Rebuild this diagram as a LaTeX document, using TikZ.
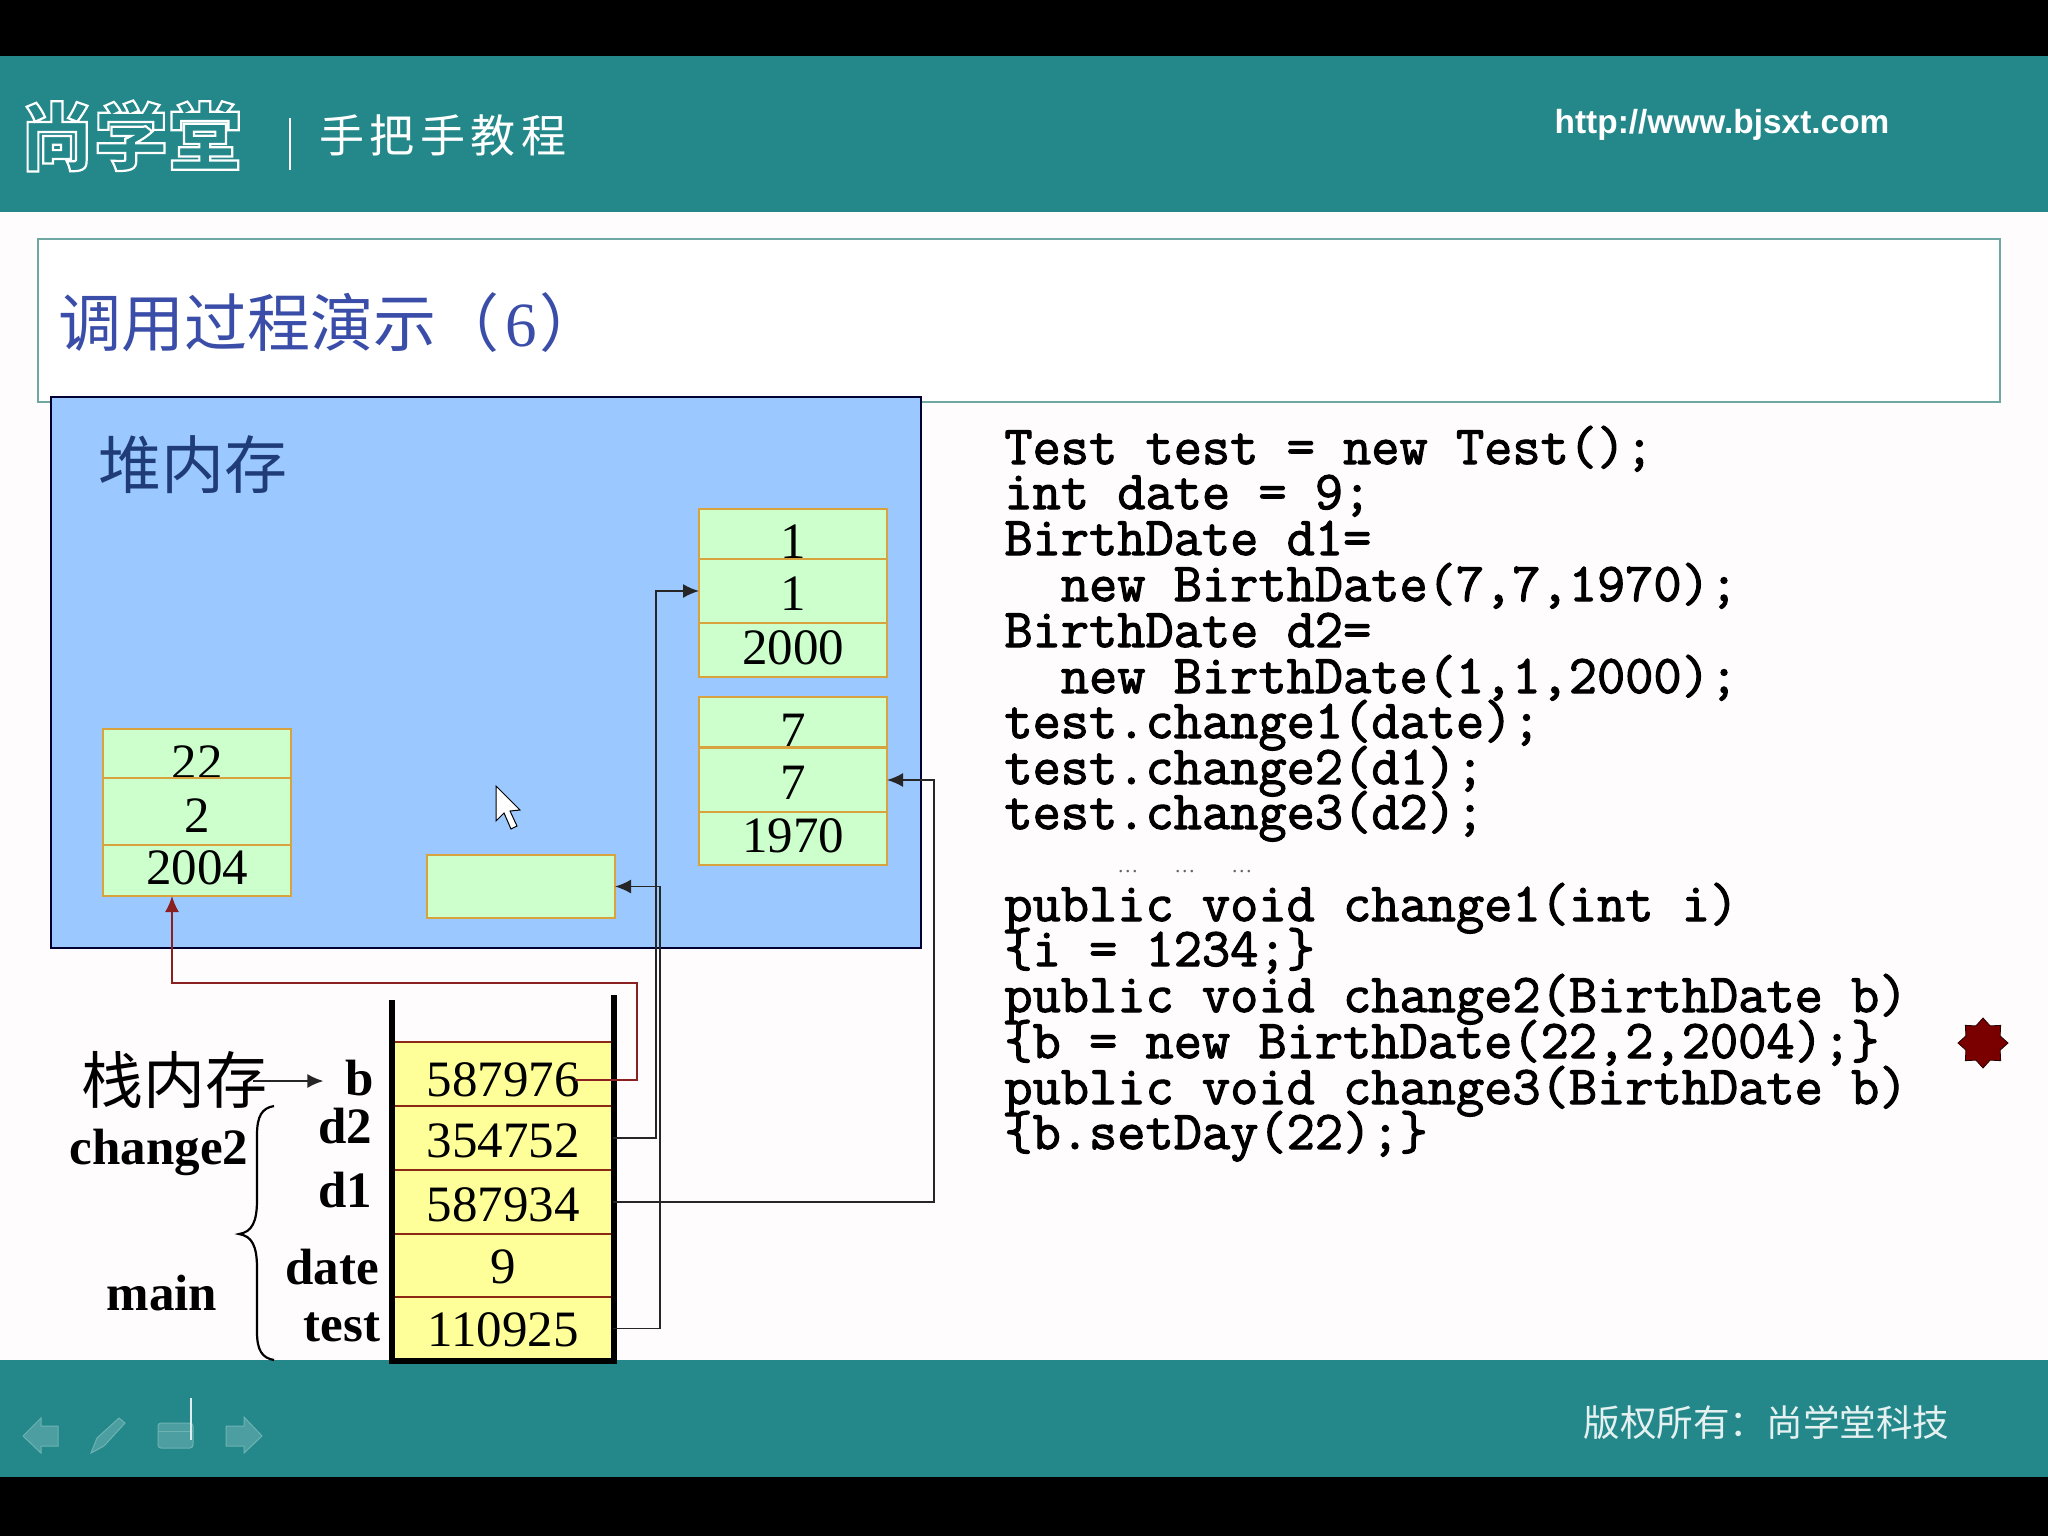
\documentclass[tikz,border=0pt]{standalone}
\usepackage{fontspec}
\usetikzlibrary{arrows.meta,shapes.geometric,calc}
\setmainfont{Liberation Serif}
\newfontfamily\cjk{Noto Sans CJK SC}
\newfontfamily\cjkwide[LetterSpace=12]{Noto Sans CJK SC}
\newfontfamily\hsans{Liberation Sans}
\definecolor{teal1}{HTML}{24888A}
\definecolor{heapblue}{HTML}{9AC8FF}
\definecolor{cellgreen}{HTML}{CCFFCC}
\definecolor{cellline}{HTML}{D8A23C}
\definecolor{stackyellow}{HTML}{FFFF99}
\definecolor{stackline}{HTML}{8A2A14}
\definecolor{framegreen}{HTML}{6FA8A2}
\definecolor{titleblue}{HTML}{3A4DA8}
\definecolor{heapink}{HTML}{1F3C78}
\definecolor{redline}{HTML}{8A2020}
\definecolor{starred}{HTML}{7A0000}
\definecolor{iconfill}{HTML}{4C9EA0}
\definecolor{iconedge}{HTML}{6DB3B3}
\newcommand{\outlinedtext}[1]{\special{pdf:code 1 Tr 1.1 w}#1\special{pdf:code 0 Tr}}
\newcommand{\thick}[1]{\special{pdf:code 2 Tr 0.55 w}#1\special{pdf:code 0 Tr}}
\newcommand{\nudge}[2]{\raisebox{#1}[\height][0pt]{#2}}
\tikzset{
  x=0.5pt,y=-0.5pt,
  herocell/.style={draw=cellline,line width=1.3pt,fill=cellgreen,minimum width=94pt,inner sep=0pt,outer sep=0pt,font=\fontsize{25.5}{26}\selectfont},
  stackcell/.style={draw=stackline,line width=1.2pt,fill=stackyellow,minimum width=110pt,inner sep=0pt,outer sep=0pt,font=\fontsize{25.5}{26}\selectfont},
  conn/.style={draw=black!85,line width=0.9pt,-{Latex[length=8pt,width=7pt]}},
  redconn/.style={draw=redline,line width=0.9pt,-{Latex[length=8pt,width=7pt]}},
  wall/.style={line width=3pt,black},
  varlabel/.style={font=\fontsize{25.5}{26}\selectfont\bfseries,inner sep=0pt},
  codeline/.style={anchor=base west,inner sep=0pt,font=\ttfamily\fontsize{27.4}{28}\selectfont},
  icon/.style={fill=iconfill,draw=iconedge,line width=0.5pt},
}
\begin{document}
\begin{tikzpicture}
\useasboundingbox (0,0) rectangle (2048,1536);
\fill[black] (0,0) rectangle (2048,1536);
\fill[white!99!magenta] (0,212) rectangle (2048,1360);
\fill[teal1] (0,56) rectangle (2048,212);
\fill[teal1] (0,1360) rectangle (2048,1477);
% header
\node[inner sep=0pt,white,font=\cjk\bfseries\fontsize{37}{38}\selectfont] (logo) at (131,136) {\outlinedtext{尚学堂}};
\draw[white,line width=0.7pt] (290,118) -- (290,170);
\node[inner sep=0pt,anchor=west,white,font=\cjkwide\fontsize{22.5}{24}\selectfont] (tagline) at (319,135) {手把手教程};
\node[inner sep=0pt,white,font=\hsans\bfseries\fontsize{16.7}{18}\selectfont] (url) at (1722,125) {http://www.bjsxt.com};
% title
\node[draw=framegreen,line width=1pt,minimum width=981pt,minimum height=81.5pt,inner sep=0pt,fill=white] (titlebox) at (1019,320.5) {};
\node[inner sep=0pt,anchor=west,titleblue,font=\cjk\fontsize{31.5}{32}\selectfont] (title) at (58,323) {调用过程演示（\hspace{3pt}{\rmfamily 6}\hspace{1.5pt}）};
% heap
\node[draw=black!80!blue,line width=1pt,fill=heapblue,minimum width=435pt,minimum height=275.5pt,inner sep=0pt] (heap) at (486,672.5) {};
\node[inner sep=0pt,heapink,anchor=west,font=\cjk\fontsize{31.5}{32}\selectfont] (heaplabel) at (98,465) {堆内存};
% object 1
\node[herocell,minimum height=25pt] (u1) at (793,534) {\nudge{-4pt}{1}};
\node[herocell,minimum height=32pt] (u2) at (793,591) {\nudge{-1.3pt}{1}};
\node[herocell,minimum height=27pt] (u3) at (793,650) {\nudge{1.3pt}{2000}};
% object 2
\node[herocell,minimum height=25pt] (m1) at (793,722) {\nudge{-4.5pt}{7}};
\node[herocell,minimum height=32.5pt] (m2) at (793,780) {\nudge{-1.3pt}{7}};
\node[herocell,minimum height=26.5pt] (m3) at (793,838.5) {\nudge{1.3pt}{1970}};
% object 3
\node[herocell,minimum height=24.5pt] (l1) at (197,753.5) {\nudge{-4.5pt}{22}};
\node[herocell,minimum height=33.5pt] (l2) at (197,811.5) {\nudge{-2pt}{2}};
\node[herocell,minimum height=25.5pt] (l3) at (197,870.5) {\nudge{1.3pt}{2004}};
% empty
\node[herocell,minimum height=31.5pt] (e) at (521,886.5) {};
% stack
\node[stackcell,minimum height=32pt] (s1) at (503,1074) {\nudge{-2.6pt}{587976}};
\node[stackcell,minimum height=32pt] (s2) at (503,1138) {\nudge{-1.3pt}{354752}};
\node[stackcell,minimum height=32pt] (s3) at (503,1202) {\nudge{-1.3pt}{587934}};
\node[stackcell,minimum height=31.5pt] (s4) at (503,1265.5) {\nudge{-0.6pt}{9}};
\node[stackcell,minimum height=31.5pt] (s5) at (503,1328.5) {\nudge{-0.6pt}{110925}};
\draw[wall] (392,1000) -- (392,1361);
\draw[wall] (614,995) -- (614,1361);
\draw[wall,line cap=rect] (392,1361) -- (614,1361);
% labels
\node[inner sep=0pt,font=\cjk\fontsize{31}{32}\selectfont] (stacklabel) at (174,1080) {栈内存};
\node[varlabel] (vb) at (360,1078) {b};
\node[varlabel] (vd2) at (345,1126) {d2};
\node[varlabel] (vd1) at (345,1190) {d1};
\node[varlabel] (vdate) at (332,1267) {date};
\node[varlabel] (vtest) at (342,1327) {test};
\node[varlabel] (vchange) at (159,1152) {change2};
\node[varlabel] (vmain) at (162,1293) {main};
\draw[line width=1.1pt,black] (274,1106) .. controls (262,1108) and (257,1116) .. (257,1135) -- (257,1200) .. controls (257,1222) and (252,1232) .. (239,1234) .. controls (252,1236) and (257,1246) .. (257,1268) -- (257,1332) .. controls (257,1350) and (262,1358) .. (274,1360);
% connectors
\draw[conn] (stacklabel.east) ++(-14,1) -- ([xshift=-11pt,yshift=-1.5pt]vb.west);
\draw[redconn] ([xshift=36pt,yshift=-3pt]s1.center) -- ++(62,0) -- ++(0,-97) -- ++(-465,0) -- (l3.south -| 172,0);
\draw[conn] (s2.east) -- ++(43,0) |- (u2.west);
\draw[conn] (s3.east) -- ++(321,0) |- (m2.east);
\draw[conn] (s5.east) -- ++(47,0) |- (e.east);
% cursor
\draw[black,fill=white,line width=0.5pt] (496,786) -- (496,821) -- (504,813) -- (511,829) -- (517,826) -- (510,811) -- (520,810) -- cycle;
% star
\node[star,star points=8,star point ratio=1.35,fill=starred,draw=black!70!starred,line width=0.4pt,minimum size=25pt,inner sep=0pt] (marker) at (1983,1043) {};
% code
\node[codeline] (c1) at (1004,464) {\thick{Test test = new Test();}};
\node[codeline] (c2) at (1004,509) {\thick{int date = 9;}};
\node[codeline] (c3) at (1004,555) {\thick{BirthDate d1=}};
\node[codeline] (c4) at (1004,601) {\thick{\ \ new BirthDate(7,7,1970);}};
\node[codeline] (c5) at (1004,647) {\thick{BirthDate d2=}};
\node[codeline] (c6) at (1004,693) {\thick{\ \ new BirthDate(1,1,2000);}};
\node[codeline] (c7) at (1004,738) {\thick{test.change1(date);}};
\node[codeline] (c8) at (1004,784) {\thick{test.change2(d1);}};
\node[codeline] (c9) at (1004,829) {\thick{test.change3(d2);}};
\node[inner sep=0pt,anchor=base west,black!60,font=\fontsize{10.5}{11}\selectfont] (dots) at (1117,872) {…\hspace{18pt}…\hspace{18pt}…};
\node[codeline] (c10) at (1004,921) {\thick{public void change1(int i)}};
\node[codeline] (c11) at (1004,966) {\thick{\{i = 1234;\}}};
\node[codeline] (c12) at (1004,1012) {\thick{public void change2(BirthDate b)}};
\node[codeline] (c13) at (1004,1058) {\thick{\{b = new BirthDate(22,2,2004);\}}};
\node[codeline] (c14) at (1004,1104) {\thick{public void change3(BirthDate b)}};
\node[codeline] (c15) at (1004,1149) {\thick{\{b.setDay(22);\}}};
% footer
\node[inner sep=0pt,anchor=west,white!88!teal1,font=\cjk\fontsize{18.3}{20}\selectfont] (footer) at (1583,1422) {版权所有：尚学堂科技};
\draw[icon] (23,1436) -- (41,1418) -- (41,1426) -- (58,1426) -- (58,1446) -- (41,1446) -- (41,1453) -- cycle;
\draw[icon] (91,1453) -- (97,1438) -- (119,1418) -- (125,1423) -- (104,1446) -- cycle;
\draw[icon,rounded corners=1.5pt] (158,1423) rectangle (193,1448);
\draw[iconedge,line width=0.5pt] (158,1431) -- (193,1431);
\draw[white!85!teal1,line width=0.8pt] (191,1398) -- (191,1440);
\draw[icon] (262,1436) -- (244,1417) -- (244,1426) -- (226,1426) -- (226,1446) -- (244,1446) -- (244,1453) -- cycle;
\end{tikzpicture}
\end{document}
